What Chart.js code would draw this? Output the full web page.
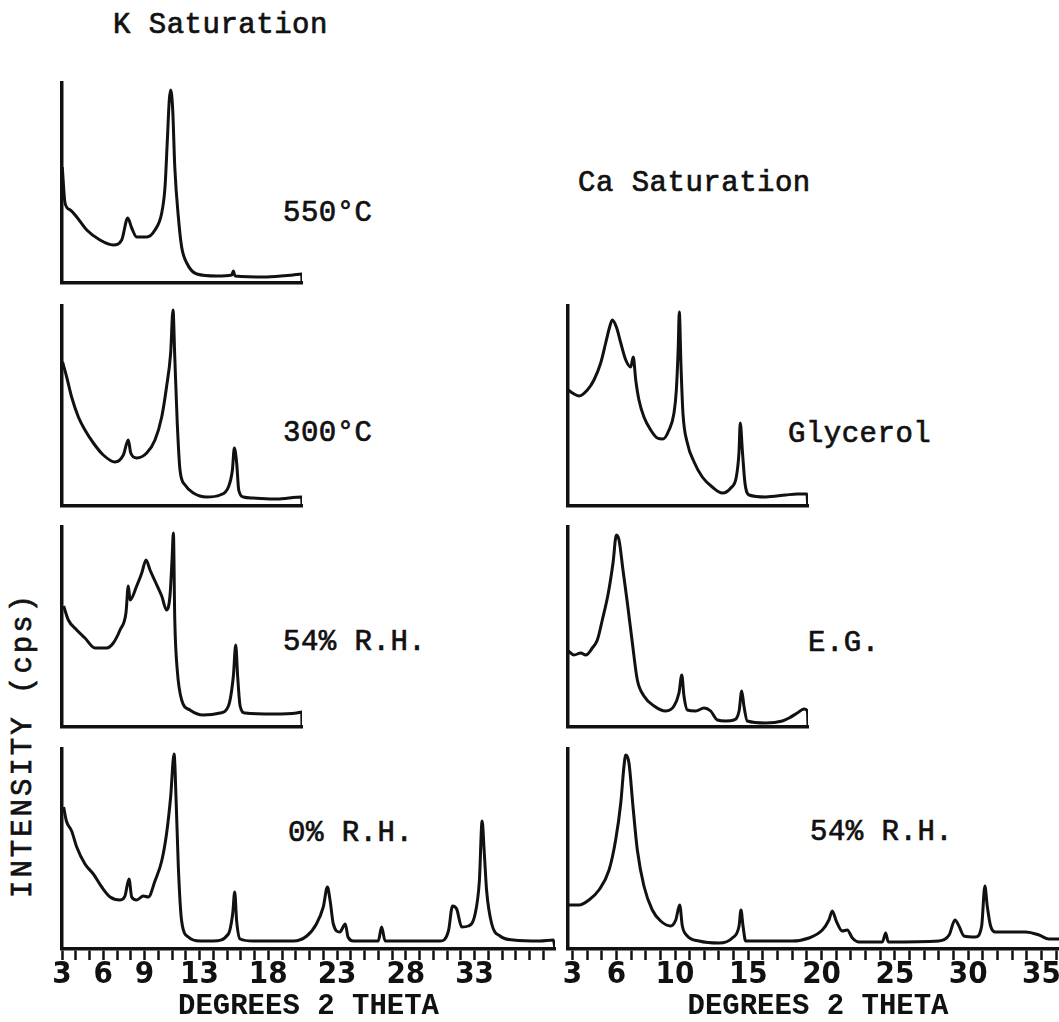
<!DOCTYPE html>
<html>
<head>
<meta charset="utf-8">
<script src="https://cdn.jsdelivr.net/npm/chart.js@4"></script>
<style>
  html, body { margin: 0; padding: 0; width: 1059px; height: 1022px; overflow: hidden; background: #fff; }
  canvas { position: absolute; }
  .lbl { position: absolute; font-family: 'Liberation Mono', 'DejaVu Sans Mono', monospace; font-size: 29px; line-height: 29px; color: #111; white-space: nowrap; letter-spacing: 0.5px; -webkit-text-stroke: 0.7px #111; }
</style>
</head>
<body>
<div class="lbl" style="left:113px;top:11px">K Saturation</div>
<div class="lbl" style="left:578px;top:169px">Ca Saturation</div>
<div class="lbl" style="left:283px;top:199px">550°C</div>
<div class="lbl" style="left:283px;top:419px">300°C</div>
<div class="lbl" style="left:283px;top:628px">54% R.H.</div>
<div class="lbl" style="left:288px;top:819px">0% R.H.</div>
<div class="lbl" style="left:788px;top:420px">Glycerol</div>
<div class="lbl" style="left:808px;top:629px">E.G.</div>
<div class="lbl" style="left:810px;top:818px">54% R.H.</div>
<div class="lbl" style="left:23px;top:745px;transform:translate(-50%,-50%) rotate(-90deg);letter-spacing:3px">INTENSITY (cps)</div>
<script>
// K saturated sample, degrees 2 theta and intensity (chart units)
const k550Theta = [3.02, 3.22, 3.6, 4.07, 4.8, 5.76, 6.73, 7.34, 7.78, 8.07, 8.43, 9.16, 9.76, 10.25, 10.49, 10.66, 10.8, 10.9, 11.05, 11.2, 11.46, 11.7, 12.07, 12.8, 14.25, 15.34, 15.46, 15.58, 17.9, 19.8, 20.43, 20.45];
const k550Counts = [116, 80, 73, 66, 53, 43, 38, 43, 65, 55, 46, 46, 53, 70, 96, 143, 183, 193, 173, 116, 66, 36, 20, 9, 7, 8, 12, 7, 6, 8, 9, 0];

const k300Theta = [3.04, 3.34, 3.7, 4.19, 4.67, 5.28, 6.0, 6.85, 7.46, 7.82, 8.0, 8.43, 9.16, 9.76, 10.25, 10.6, 10.9, 11.07, 11.2, 11.38, 11.58, 11.95, 12.55, 13.52, 14.5, 15.1, 15.39, 15.53, 15.7, 15.85, 16.18, 16.9, 18.6, 20.43, 20.45];
const k300Counts = [144, 129, 109, 89, 76, 63, 51, 44, 51, 66, 53, 48, 53, 66, 89, 119, 153, 196, 149, 83, 36, 21, 13, 9, 11, 19, 36, 58, 43, 16, 9, 8, 7, 9, 0];

const k54Theta = [3.12, 3.46, 4.07, 4.67, 5.4, 6.25, 6.73, 7.22, 7.65, 7.82, 7.95, 8.43, 8.8, 9.11, 9.4, 9.76, 10.25, 10.6, 10.85, 11.0, 11.1, 11.2, 11.38, 11.7, 12.3, 13.27, 14.5, 15.1, 15.46, 15.63, 15.77, 15.95, 16.3, 18.4, 20.07, 20.43, 20.45];
const k54Counts = [121, 107, 97, 89, 79, 79, 84, 97, 114, 141, 127, 141, 154, 167, 157, 146, 131, 117, 131, 167, 194, 107, 57, 27, 17, 12, 14, 21, 51, 82, 51, 21, 14, 13, 14, 15, 0];

const k0Theta = [3.12, 3.32, 3.7, 4.07, 4.67, 5.28, 5.89, 6.5, 7.22, 7.58, 7.87, 8.07, 8.43, 8.91, 9.28, 9.76, 10.25, 10.6, 10.9, 11.15, 11.3, 11.46, 11.7, 12.19, 13.04, 14.0, 15.1, 15.41, 15.56, 15.7, 15.95, 16.9, 19.82, 20.8, 21.5, 22.0, 22.3, 22.5, 22.73, 23.2, 23.6, 23.8, 24.2, 26.0, 26.24, 26.5, 30.5, 31.1, 31.4, 31.7, 32.07, 32.55, 33.04, 33.35, 33.55, 33.7, 33.88, 34.25, 34.85, 35.82, 37.76, 38.73, 38.85];
const k0Counts = [142, 128, 118, 102, 85, 75, 62, 52, 49, 53, 70, 52, 49, 53, 52, 68, 88, 115, 152, 195, 148, 82, 28, 12, 8, 8, 15, 35, 57, 28, 10, 8, 8, 13, 25, 42, 62, 48, 25, 17, 25, 12, 8, 8, 22, 8, 8, 18, 43, 40, 22, 23, 35, 68, 128, 98, 58, 25, 13, 9, 8, 9, 0];

// Ca saturated sample
const caGlyTheta = [2.72, 3.0, 3.45, 4.02, 4.47, 4.93, 5.27, 5.54, 5.72, 6.0, 6.3, 6.64, 6.98, 7.15, 7.32, 7.54, 7.88, 8.34, 8.79, 9.18, 9.59, 9.93, 10.09, 10.22, 10.29, 10.41, 10.54, 10.84, 11.3, 11.86, 12.54, 13.23, 13.8, 14.18, 14.36, 14.45, 14.59, 14.77, 15.05, 16.19, 17.55, 18.34, 19.0, 19.05];
const caGlyCounts = [116, 113, 110, 116, 126, 143, 163, 179, 186, 179, 163, 146, 139, 149, 126, 106, 89, 76, 68, 67, 76, 93, 116, 159, 194, 139, 93, 63, 44, 29, 19, 13, 18, 29, 53, 83, 56, 23, 11, 9, 11, 12, 12, 0];

const caEgTheta = [2.72, 3.11, 3.57, 3.91, 4.36, 4.7, 5.04, 5.45, 5.77, 6.0, 6.18, 6.45, 6.75, 7.09, 7.43, 7.88, 8.57, 9.36, 9.93, 10.27, 10.46, 10.61, 10.84, 11.41, 11.98, 12.43, 12.89, 13.46, 14.02, 14.37, 14.55, 14.7, 14.93, 16.19, 17.32, 17.78, 18.34, 18.8, 19.03, 19.07];
const caEgCounts = [76, 72, 74, 72, 79, 87, 107, 134, 164, 192, 187, 157, 124, 84, 47, 31, 21, 16, 21, 34, 52, 31, 17, 16, 19, 16, 7, 6, 7, 16, 36, 21, 6, 4, 6, 9, 14, 18, 16, 0];

const ca54Theta = [2.72, 3.45, 4.13, 4.81, 5.5, 5.95, 6.3, 6.52, 6.64, 6.86, 7.13, 7.43, 7.88, 8.45, 9.02, 9.7, 10.05, 10.32, 10.5, 10.84, 11.64, 13.0, 13.91, 14.37, 14.5, 14.64, 14.82, 18.0, 19.14, 20.05, 20.5, 20.73, 21.0, 21.41, 21.75, 22.1, 22.55, 24.15, 24.37, 24.55, 28.0, 28.7, 29.1, 29.37, 29.71, 30.5, 30.92, 31.14, 31.3, 31.53, 31.87, 33.92, 34.83, 35.5, 36.2];
const ca54Counts = [44, 44, 49, 59, 79, 109, 146, 183, 194, 186, 143, 99, 63, 39, 28, 23, 29, 44, 23, 13, 8, 6, 11, 23, 39, 23, 8, 8, 11, 19, 29, 38, 28, 18, 19, 11, 7, 7, 16, 7, 8, 14, 29, 23, 13, 12, 23, 63, 43, 23, 17, 17, 14, 10, 10];

// tick labels printed under the bottom axes
const kTickLabels = [3, 6, 9, 13, 18, 23, 28, 33];
const caTickLabels = [3, 6, 10, 15, 20, 25, 30, 35];

const INK = '#111';
const PAD = 12;

function makePanel(left, top, width, height, xMin, xMax, theta, counts, tickLabels) {
    const axisH = tickLabels ? 75 : 0;
    const c = document.createElement('canvas');
    c.width = width + PAD * 2 + 10;
    c.height = height + PAD * 2 + axisH;
    c.style.left = (left - PAD) + 'px';
    c.style.top = (top - PAD) + 'px';
    document.body.appendChild(c);

    new Chart(c.getContext('2d'), {
        type: 'line',
        data: {
            datasets: [{
                data: theta.map((t, i) => ({ x: t, y: counts[i] })),
                borderColor: INK,
                borderWidth: 3,
                pointRadius: 0,
                fill: false,
                cubicInterpolationMode: 'monotone'
            }]
        },
        options: {
            responsive: false,
            animation: false,
            devicePixelRatio: 1,
            layout: { padding: { left: PAD, top: PAD, right: PAD + 10, bottom: PAD } },
            plugins: { legend: { display: false }, tooltip: { enabled: false } },
            scales: {
                x: {
                    type: 'linear',
                    bounds: 'data',
                    min: xMin,
                    max: xMax,
                    grid: { display: !!tickLabels, drawOnChartArea: false, drawTicks: true, tickLength: 11, tickWidth: 2.5, tickColor: INK },
                    border: { display: true, color: INK, width: 3.5 },
                    ticks: tickLabels ? {
                        display: true,
                        autoSkip: false,
                        maxRotation: 0,
                        padding: -4,
                        color: INK,
                        font: { family: "'Liberation Sans Narrow', 'DejaVu Sans Condensed', 'Liberation Sans', sans-serif", size: 31, weight: 'bold', lineHeight: 1.2 },
                        callback: (v) => tickLabels.includes(v) ? String(v) : ''
                    } : { display: false },
                    // one tick mark per whole degree
                    afterBuildTicks: (s) => {
                        if (!tickLabels) return;
                        const t = [];
                        for (let v = Math.ceil(xMin); v <= xMax; v++) t.push({ value: v });
                        s.ticks = t;
                    },
                    title: tickLabels ? {
                        display: true,
                        text: 'DEGREES 2 THETA',
                        color: INK,
                        font: { family: "'Liberation Mono', monospace", size: 29, weight: 'bold' },
                        padding: { top: 0, bottom: 0 }
                    } : { display: false },
                    afterFit: (s) => { s.height = axisH; }
                },
                y: {
                    min: 0,
                    max: 200,
                    grid: { display: false },
                    ticks: { display: false },
                    border: { display: true, color: INK, width: 3.5 },
                    afterFit: (s) => { s.width = 0; }
                }
            }
        }
    });
}

// K saturation column (13.75 px per degree)
makePanel(62, 83, 240, 200, 3, 20.45, k550Theta, k550Counts, null);
makePanel(62, 306, 240, 200, 3, 20.45, k300Theta, k300Counts, null);
makePanel(62, 527, 240, 200, 3, 20.45, k54Theta, k54Counts, null);
makePanel(62, 749, 493, 200, 3, 38.85, k0Theta, k0Counts, kTickLabels);

// Ca saturation column (14.66 px per degree)
makePanel(568, 306, 240, 200, 2.7, 19.07, caGlyTheta, caGlyCounts, null);
makePanel(568, 527, 240, 200, 2.7, 19.07, caEgTheta, caEgCounts, null);
makePanel(568, 749, 500, 200, 2.7, 36.81, ca54Theta, ca54Counts, caTickLabels);
</script>
</body>
</html>
